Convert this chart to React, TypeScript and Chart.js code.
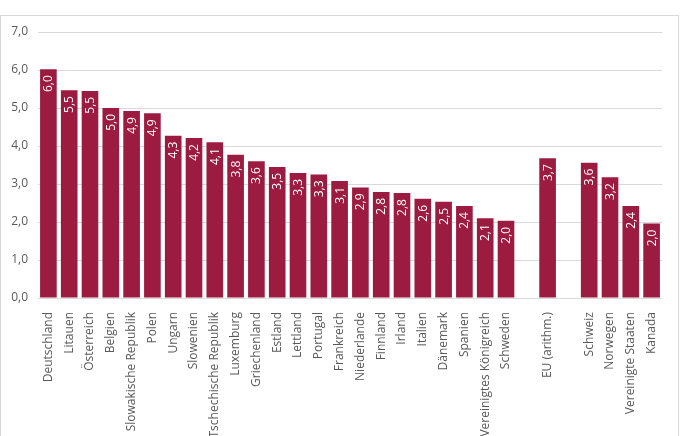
import React, { useEffect, useRef } from "react";
import { Chart, registerables } from "chart.js";

Chart.register(...registerables);

const categories: string[] = [
  "Deutschland", "Litauen", "Österreich", "Belgien", "Slowakische Republik", "Polen",
  "Ungarn", "Slowenien", "Tschechische Republik", "Luxemburg", "Griechenland", "Estland",
  "Lettland", "Portugal", "Frankreich", "Niederlande", "Finnland", "Irland", "Italien",
  "Dänemark", "Spanien", "Vereinigtes Königreich", "Schweden", "", "EU (arithm.)", "",
  "Schweiz", "Norwegen", "Vereinigte Staaten", "Kanada",
];

const values: (number | null)[] = [
  6.02, 5.47, 5.45, 5.0, 4.92, 4.86,
  4.27, 4.21, 4.1, 3.77, 3.6, 3.45,
  3.29, 3.25, 3.08, 2.91, 2.79, 2.76, 2.61,
  2.53, 2.42, 2.1, 2.03, null, 3.68, null,
  3.56, 3.18, 2.42, 1.96,
];

const yTicks: number[] = [0, 1, 2, 3, 4, 5, 6, 7];

const FONT = "'Open Sans', sans-serif";
const BAR = "#9b1c40";

const fmt = (v: number) => v.toFixed(1).replace(".", ",");

const valueLabels = {
  id: "valueLabels",
  afterDatasetsDraw(chart: any) {
    const ctx = chart.ctx;
    const meta = chart.getDatasetMeta(0);
    ctx.save();
    ctx.fillStyle = "#ffffff";
    ctx.font = `12px ${FONT}`;
    ctx.textAlign = "right";
    ctx.textBaseline = "middle";
    meta.data.forEach((el: any, i: number) => {
      const v = values[i];
      if (v == null) return;
      ctx.save();
      ctx.translate(el.x + 0.5, el.y + 6);
      ctx.rotate(-Math.PI / 2);
      ctx.fillText(fmt(v), 0, 0);
      ctx.restore();
    });
    ctx.restore();
  },
};

export default function App() {
  const ref = useRef<HTMLCanvasElement | null>(null);

  useEffect(() => {
    document.body.style.margin = "0";
    const canvas = ref.current;
    if (!canvas) return;
    const chart = new Chart(canvas, {
      type: "bar",
      data: {
        labels: categories,
        datasets: [
          {
            data: values,
            backgroundColor: BAR,
            borderWidth: 0,
            barPercentage: 0.8,
            categoryPercentage: 1,
          },
        ],
      },
      options: {
        animation: false,
        responsive: false,
        maintainAspectRatio: false,
        layout: { padding: { left: 0, right: 21, top: 32, bottom: 0 } },
        plugins: {
          legend: { display: false },
          tooltip: { enabled: false },
          title: { display: false },
        },
        scales: {
          x: {
            grid: { display: false },
            border: { display: false },
            afterFit: (scale: any) => {
              scale.height = 138;
            },
            ticks: {
              autoSkip: false,
              minRotation: 90,
              maxRotation: 90,
              padding: 6,
              color: "#595959",
              font: { family: FONT, size: 12 },
            },
          },
          y: {
            min: 0,
            max: 7,
            afterFit: (scale: any) => {
              scale.width = 38;
            },
            afterBuildTicks: (scale: any) => {
              scale.ticks = yTicks.map((v) => ({ value: v }));
            },
            grid: { color: "#d9d9d9", drawTicks: false, lineWidth: 1 },
            border: { display: false },
            ticks: {
              padding: 10,
              color: "#595959",
              font: { family: FONT, size: 12 },
              callback: (v: any) => fmt(Number(v)),
            },
          },
        },
      },
      plugins: [valueLabels],
    });
    return () => chart.destroy();
  }, []);

  return (
    <div style={{ position: "relative", width: 683, height: 436, overflow: "hidden" }}>
      <div
        style={{
          position: "absolute",
          left: 0,
          top: 15,
          width: 679,
          height: 440,
          border: "1px solid #d9d9d9",
          boxSizing: "border-box",
        }}
      />
      <canvas
        ref={ref}
        width={683}
        height={436}
        style={{ position: "absolute", left: 0, top: 0, width: 683, height: 436 }}
      />
    </div>
  );
}
